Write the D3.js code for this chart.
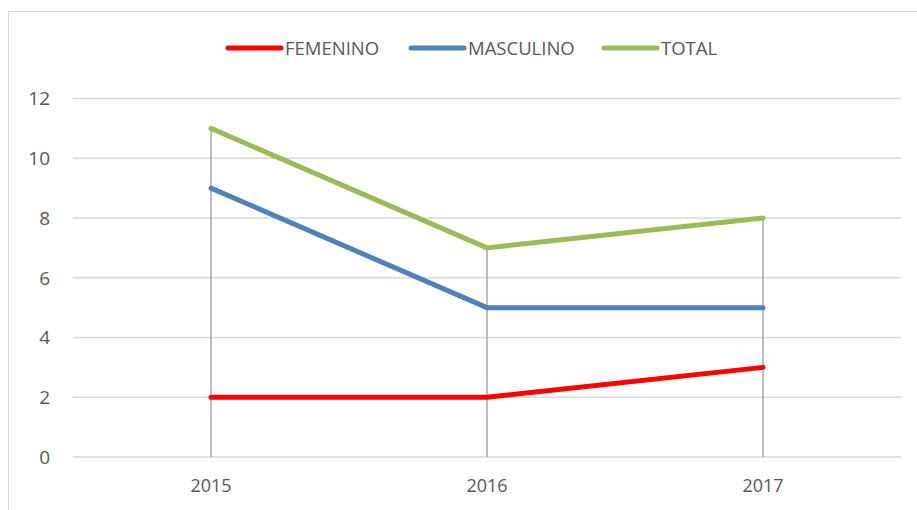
<!DOCTYPE html>
<html>
<head>
<meta charset="utf-8">
<script src="https://cdn.jsdelivr.net/npm/d3@7"></script>
<style>
  body { margin: 0; background: #fff; }
  svg text { font-family: "Open Sans", sans-serif; fill: #595959; }
</style>
</head>
<body>
<div class="container"></div>
<script>
var years = ['2015', '2016', '2017'];
var femenino = [2, 2, 3];
var masculino = [9, 5, 5];
var total = [11, 7, 8];
var yTicks = [0, 2, 4, 6, 8, 10, 12];

const WIDTH = 917;
const HEIGHT = 510;

var series = [
    {name: 'FEMENINO', values: femenino, color: '#ff0000'},
    {name: 'MASCULINO', values: masculino, color: '#4f81bd'},
    {name: 'TOTAL', values: total, color: '#9bbb59'}
];

var visualize = function () {
    var svg = d3.select('.container').append('svg')
        .attr('width', WIDTH)
        .attr('height', HEIGHT);

    // chart border (right and bottom edges fall outside the picture)
    svg.append('rect')
        .attr('x', 8.5).attr('y', 11.5)
        .attr('width', 940).attr('height', 540)
        .attr('fill', 'none')
        .attr('stroke', '#d9d9d9');

    var xScale = d3.scaleBand().domain(years).range([73, 901]);
    var yScale = d3.scaleLinear().domain([0, 12]).range([457, 98.5]);
    var xMid = function (d) { return xScale(d) + xScale.bandwidth() / 2; };

    // gridlines
    svg.append('g').selectAll('line')
        .data(yTicks)
        .enter().append('line')
        .attr('x1', 73).attr('x2', 901)
        .attr('y1', function (d) { return yScale(d); })
        .attr('y2', function (d) { return yScale(d); })
        .attr('stroke', '#d9d9d9')
        .attr('stroke-width', 1.3);

    // y labels
    svg.append('g').selectAll('text')
        .data(yTicks)
        .enter().append('text')
        .attr('x', 50)
        .attr('y', function (d) { return yScale(d); })
        .attr('dy', '0.36em')
        .attr('text-anchor', 'end')
        .style('font-size', '19px')
        .text(function (d) { return d; });

    // x labels
    svg.append('g').selectAll('text')
        .data(years)
        .enter().append('text')
        .attr('x', xMid)
        .attr('y', 492)
        .attr('text-anchor', 'middle')
        .style('font-size', '18px')
        .text(function (d) { return d; });

    // drop lines
    svg.append('g').selectAll('line')
        .data(years)
        .enter().append('line')
        .attr('x1', xMid).attr('x2', xMid)
        .attr('y1', function (d, i) {
            return yScale(d3.max(series, function (s) { return s.values[i]; }));
        })
        .attr('y2', yScale(0))
        .attr('stroke', '#a6a6a6')
        .attr('stroke-width', 1.5);

    var line = d3.line()
        .x(function (d, i) { return xMid(years[i]); })
        .y(function (d) { return yScale(d); });

    svg.append('g').selectAll('path')
        .data(series)
        .enter().append('path')
        .attr('d', function (s) { return line(s.values); })
        .attr('fill', 'none')
        .attr('stroke', function (s) { return s.color; })
        .attr('stroke-width', 5)
        .attr('stroke-linecap', 'round')
        .attr('stroke-linejoin', 'round');

    // legend
    var legendX = [226, 409, 602];
    var legend = svg.append('g').selectAll('g')
        .data(series)
        .enter().append('g')
        .attr('transform', function (s, i) { return 'translate(' + legendX[i] + ',48)'; });

    legend.append('line')
        .attr('x1', 2).attr('x2', 55)
        .attr('stroke', function (s) { return s.color; })
        .attr('stroke-width', 5)
        .attr('stroke-linecap', 'round');

    legend.append('text')
        .attr('x', 59)
        .attr('dy', '0.36em')
        .style('font-size', '18.5px')
        .text(function (s) { return s.name; });
};

window.onload = visualize;
</script>
</body>
</html>
